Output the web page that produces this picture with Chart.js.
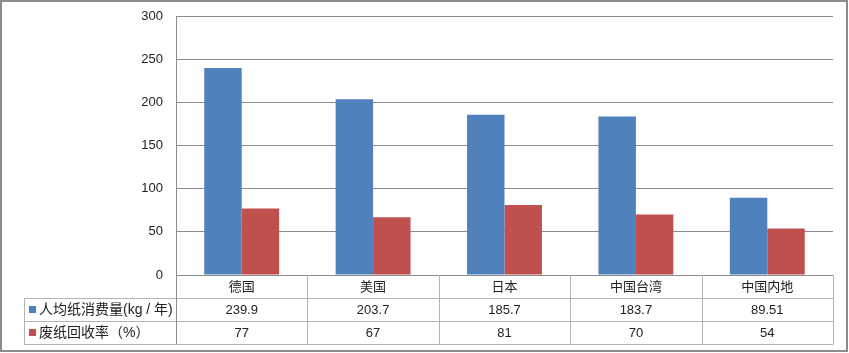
<!DOCTYPE html>
<html>
<head>
<meta charset="utf-8">
<script src="https://cdn.jsdelivr.net/npm/chart.js@4/dist/chart.umd.min.js"></script>
<style>
  html, body { margin: 0; padding: 0; background: #fff; }
  canvas { display: block; }
</style>
</head>
<body>
<canvas id="paperChart" width="849" height="353"></canvas>
<script>
// Paper consumption vs recycling rate

const categories = ['德国', '美国', '日本', '中国台湾', '中国内地'];
const consumptionLabel = '人均纸消费量(kg / 年)';
const consumption = [239.9, 203.7, 185.7, 183.7, 89.51];
const recycleLabel = '废纸回收率（%）';
const recycleRate = [77, 67, 81, 70, 54];
const yTicks = [0, 50, 100, 150, 200, 250, 300];

const BLUE = '#4F81BD';
const RED = '#C0504D';
const FONT = "'Liberation Sans', 'Noto Sans CJK SC', sans-serif";

// Data table under the plot, Excel style
const tablePlugin = {
    id: 'dataTable',
    beforeDraw(chart) {
        const ctx = chart.ctx;
        ctx.save();
        ctx.fillStyle = '#fff';
        ctx.fillRect(0, 0, chart.width, chart.height);
        ctx.restore();
    },
    afterDraw(chart) {
        const ctx = chart.ctx;
        const area = chart.chartArea;
        const xs = chart.scales.x;
        const rowH = 23;
        const y0 = area.bottom;
        const y1 = y0 + rowH;
        const y2 = y1 + rowH;
        const y3 = y2 + rowH;
        const tableLeft = 24;
        const cw = (area.right - area.left) / categories.length;

        ctx.save();
        ctx.strokeStyle = '#b4b4b4';
        ctx.lineWidth = 1;
        ctx.beginPath();
        // horizontal lines
        [y1, y2, y3].forEach(y => {
            ctx.moveTo(tableLeft, y + 0.5);
            ctx.lineTo(area.right, y + 0.5);
        });
        // vertical lines
        for (let i = 1; i <= categories.length; i++) {
            const x = Math.round(area.left + i * cw) + 0.5;
            ctx.moveTo(x, y0);
            ctx.lineTo(x, y3 + 0.5);
        }
        ctx.moveTo(tableLeft + 0.5, y1);
        ctx.lineTo(tableLeft + 0.5, y3 + 0.5);
        ctx.stroke();

        // axis line continued down through the table
        ctx.strokeStyle = '#8c8c8c';
        ctx.beginPath();
        ctx.moveTo(Math.round(area.left) + 0.5, y0);
        ctx.lineTo(Math.round(area.left) + 0.5, y3 + 0.5);
        ctx.stroke();

        ctx.fillStyle = '#222';
        ctx.font = '13px ' + FONT;
        ctx.textAlign = 'center';
        ctx.textBaseline = 'middle';
        categories.forEach((c, i) => {
            const cx = xs.getPixelForValue(i);
            ctx.fillText(c, cx, y0 + rowH / 2 + 1);
            ctx.fillText(String(consumption[i]), cx, y1 + rowH / 2 + 1);
            ctx.fillText(String(recycleRate[i]), cx, y2 + rowH / 2 + 1);
        });

        // series keys
        ctx.textAlign = 'left';
        ctx.font = '14px ' + FONT;
        [[consumptionLabel, BLUE, y1], [recycleLabel, RED, y2]].forEach(([label, color, y]) => {
            ctx.fillStyle = color;
            ctx.fillRect(tableLeft + 5, y + 8, 7, 7);
            ctx.fillStyle = '#222';
            ctx.fillText(label, tableLeft + 15, y + rowH / 2 + 1);
        });

        // outer frame
        ctx.strokeStyle = '#8c8c8c';
        ctx.lineWidth = 2;
        ctx.strokeRect(1, 1, 846, 350);
        ctx.restore();
    }
};

new Chart(document.getElementById('paperChart'), {
    type: 'bar',
    data: {
        labels: categories,
        datasets: [
            {
                label: consumptionLabel,
                data: consumption,
                backgroundColor: BLUE,
                categoryPercentage: 0.57,
                barPercentage: 1
            },
            {
                label: recycleLabel,
                data: recycleRate,
                backgroundColor: RED,
                categoryPercentage: 0.57,
                barPercentage: 1
            }
        ]
    },
    options: {
        responsive: false,
        animation: false,
        layout: {
            padding: { top: 0, right: 16, bottom: 0, left: 0 }
        },
        plugins: {
            legend: { display: false },
            tooltip: { enabled: false }
        },
        scales: {
            x: {
                grid: { display: false },
                border: { display: false },
                ticks: { display: false },
                afterFit: scale => { scale.height = 78; }
            },
            y: {
                min: 0,
                max: 300,
                afterBuildTicks: scale => {
                    scale.ticks = yTicks.map(v => ({ value: v }));
                },
                afterFit: scale => {
                    scale.width = 176;
                    scale.paddingTop = 16;
                },
                grid: {
                    color: '#8c8c8c',
                    drawTicks: false
                },
                border: { color: '#8c8c8c' },
                ticks: {
                    padding: 13,
                    color: '#222',
                    font: { family: FONT, size: 13, lineHeight: 1 }
                }
            }
        }
    },
    plugins: [tablePlugin]
});
</script>
</body>
</html>
